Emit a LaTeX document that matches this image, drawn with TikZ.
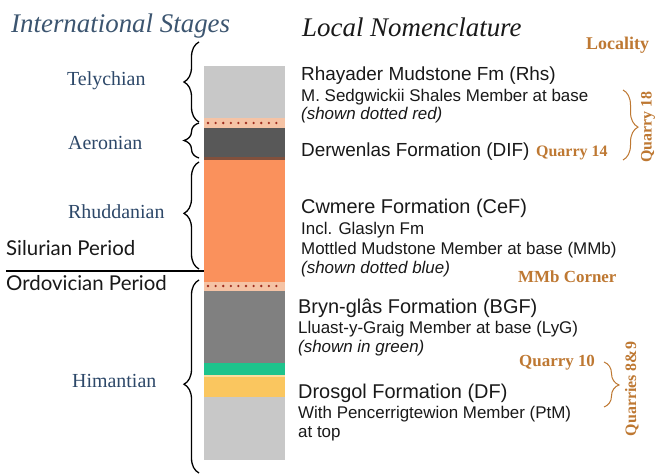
\documentclass[tikz,border=0pt]{standalone}
\usepackage{fontspec}
\setmainfont{Liberation Serif}
\newfontfamily\arialf{Liberation Sans}
\newfontfamily\humsans{Lato}
\usetikzlibrary{decorations.pathreplacing}
\definecolor{stagecol}{RGB}{45,72,105}
\definecolor{titlecol}{RGB}{60,85,112}
\definecolor{loccol}{RGB}{190,120,50}
\definecolor{lgray}{RGB}{200,200,200}
\definecolor{dgray}{RGB}{88,88,88}
\definecolor{mgray}{RGB}{128,128,128}
\definecolor{orng}{RGB}{250,145,92}
\definecolor{peach}{RGB}{245,195,165}
\definecolor{dotred}{RGB}{160,45,30}
\definecolor{brn}{RGB}{130,80,60}
\definecolor{grn}{RGB}{30,195,140}
\definecolor{yel}{RGB}{250,198,95}
\definecolor{txt}{RGB}{25,25,25}
\begin{document}
\begin{tikzpicture}[x=1bp,y=-1bp,
  stage/.style={anchor=base west, inner sep=0, text=stagecol, font=\fontsize{20}{24}\selectfont},
  title/.style={anchor=base west, inner sep=0, font=\itshape\fontsize{27}{30}\selectfont},
  maintxt/.style={anchor=base west, inner sep=0, text=txt, font=\arialf\fontsize{20}{24}\selectfont},
  smallmain/.style={maintxt, font=\arialf\fontsize{19}{23}\selectfont},
  subtxt/.style={anchor=base west, inner sep=0, text=txt, font=\arialf\fontsize{17}{20}\selectfont},
  subit/.style={subtxt, font=\arialf\itshape\fontsize{17}{20}\selectfont},
  loc/.style={inner sep=0, text=loccol, font=\bfseries\fontsize{17}{20}\selectfont},
  rotloc/.style={loc, rotate=90, font=\bfseries\fontsize{16}{18}\selectfont},
  period/.style={anchor=base west, inner sep=0, text=txt, font=\humsans\fontsize{20.5}{24}\selectfont},
  lbrace/.style={decorate, decoration={brace, amplitude=15bp, aspect=#1}, line width=1.3bp, black},
  rbrace/.style={decorate, decoration={brace, amplitude=15bp, aspect=#1}, line width=1bp, loccol},
  dots/.style={dotred, line width=2.6bp, dash pattern=on 0pt off 7.6bp, line cap=round}
]
\useasboundingbox[fill=white] (0,0) rectangle (658,476);

% column layers
\fill[lgray] (204,66) rectangle (285,118);
\fill[peach] (204,118) rectangle (285,128);
\fill[dgray] (204,128) rectangle (285,157);
\fill[brn] (204,157) rectangle (285,160);
\fill[orng] (204,160) rectangle (285,282);
\fill[peach] (204,282) rectangle (285,291);
\fill[mgray] (204,291) rectangle (285,363);
\fill[grn] (204,363) rectangle (285,375);
\fill[yel!60!white] (204,375) rectangle (285,377);
\fill[yel] (204,377) rectangle (285,397);
\fill[lgray] (204,397) rectangle (285,460);

\coordinate (d1a) at (208,123);
\coordinate (d1b) at (284,123);
\coordinate (d2a) at (208,286);
\coordinate (d2b) at (284,286);
\draw[dots] (d1a) -- (d1b);
\draw[dots] (d2a) -- (d2b);

% titles
\node[title, text=titlecol] (intl) at (11,33) {International Stages};
\node[title, text=txt] (locnom) at (302,37) {Local Nomenclature};
\node[loc, anchor=base west, font=\bfseries\fontsize{18}{20}\selectfont] (locality) at (586,50) {Locality};

% stages
\node[stage] (tely) at (67,86) {Telychian};
\node[stage] (aero) at (68,150) {Aeronian};
\node[stage] (rhud) at (68,219) {Rhuddanian};
\node[stage] (hirn) at (72,387) {Himantian};

% periods
\node[period] (silu) at (6,256) {Silurian Period};
\node[period] (ordo) at (6,291) {Ordovician Period};
\coordinate (pl1) at (6,271);
\coordinate (pl2) at (204,271);
\draw[line width=1.5bp] (pl1) -- (pl2);

% left braces
\coordinate (b1t) at (199,42);  \coordinate (b1b) at (199,122);
\coordinate (b2t) at (199,123); \coordinate (b2b) at (199,158);
\coordinate (b3t) at (199,162); \coordinate (b3b) at (199,269);
\coordinate (b4t) at (199,280); \coordinate (b4b) at (199,473);
\draw[lbrace=0.5] (b1b) -- (b1t);
\draw[lbrace=0.5] (b2b) -- (b2t);
\draw[lbrace=0.52] (b3b) -- (b3t);
\draw[lbrace=0.46] (b4b) -- (b4t);

% local nomenclature
\node[smallmain] (rhs) at (301,81) {Rhayader Mudstone Fm (Rhs)};
\node[subtxt] (sedg) at (301,102) {M. Sedgwickii Shales Member at base};
\node[subit] (sdr) at (301,120) {(shown dotted red)};
\node[smallmain] (dif) at (301,157) {Derwenlas Formation (DIF)};
\node[loc, anchor=base west, font=\bfseries\fontsize{16}{18}\selectfont] (q14) at (536,157) {Quarry 14};

\node[maintxt] (cef) at (301,214) {Cwmere Formation (CeF)};
\node[subtxt] (glas) at (301,235) {Incl. Glaslyn Fm};
\node[subtxt] (mmb) at (301,255) {Mottled Mudstone Member at base (MMb)};
\node[subit] (sdb) at (301,274) {(shown dotted blue)};
\node[loc, anchor=base west] (mmbc) at (518,283) {MMb Corner};

\node[maintxt] (bgf) at (298,314) {Bryn-glâs Formation (BGF)};
\node[subtxt] (lyg) at (298,333) {Lluast-y-Graig Member at base (LyG)};
\node[subit] (sig) at (298,352) {(shown in green)};
\node[loc, anchor=base west] (q10) at (519,366) {Quarry 10};

\node[maintxt] (df) at (298,398) {Drosgol Formation (DF)};
\node[subtxt] (ptm) at (298,418) {With Pencerrigtewion Member (PtM)};
\node[subtxt] (attop) at (298,437) {at top};

% right braces
\coordinate (r1t) at (623,90);  \coordinate (r1b) at (623,160);
\coordinate (r2t) at (604,362); \coordinate (r2b) at (604,407);
\draw[rbrace=0.53] (r1t) -- (r1b);
\draw[rbrace=0.51] (r2t) -- (r2b);
\node[rotloc] (q18) at (648,127) {Quarry 18};
\node[rotloc] (q89) at (632,389) {Quarries 8\&9};
\end{tikzpicture}
\end{document}
